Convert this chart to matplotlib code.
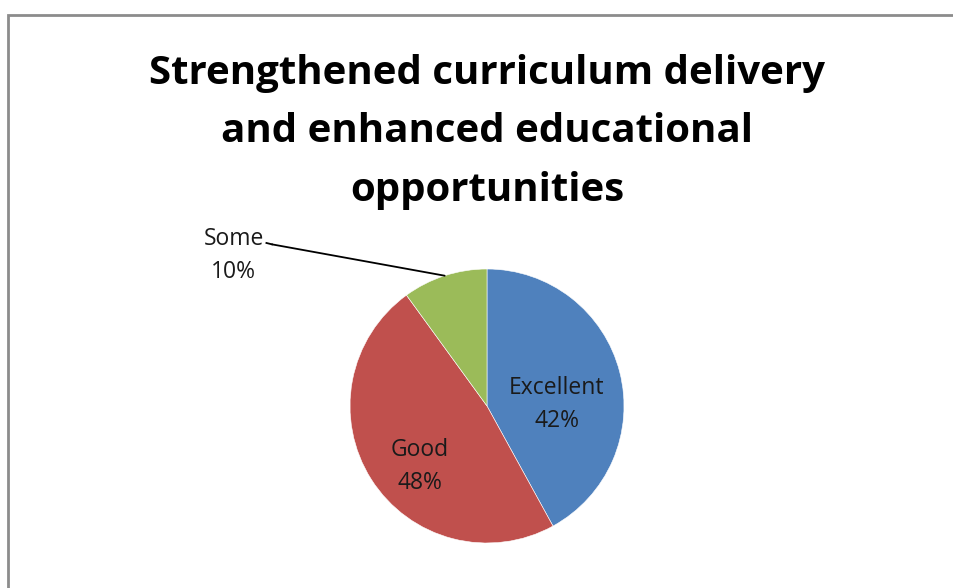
import numpy as np
import matplotlib.pyplot as plt
from matplotlib.patches import Rectangle

categories = ["Excellent", "Good", "Some"]
shares = [42, 48, 10]
colors = ["#4F81BD", "#C0504D", "#9BBB59"]
title = "Strengthened curriculum delivery\nand enhanced educational\nopportunities"

W, H = 954, 588
fig = plt.figure(figsize=(W / 100, H / 100), dpi=100)

# chart frame (runs off the right and bottom edges)
fig.patches.append(Rectangle((8 / W, -0.05), 1.2, (H - 15) / H + 0.05,
                             transform=fig.transFigure, fill=False,
                             edgecolor="#8c8c8c", linewidth=2))

fig.text(487 / W, 1 - 132 / H, title, ha="center", va="center",
         fontsize=29, fontweight="bold", family="Open Sans",
         linespacing=1.64)

cx, cy, r = 487, 406, 137
ax = fig.add_axes([(cx - r) / W, (H - cy - r) / H, 2 * r / W, 2 * r / H])
wedges, _ = ax.pie(shares, colors=colors, startangle=90, counterclock=False,
                   radius=1, wedgeprops=dict(edgecolor="white", linewidth=0.4))
ax.set_xlim(-1, 1)
ax.set_ylim(-1, 1)
ax.set_aspect("equal")
ax.axis("off")

lbl = dict(ha="center", va="center", fontsize=16.5, family="Open Sans",
           color="#1a1a1a", linespacing=1.5)
ax.text(0.51, 0.012, f"{categories[0]}\n{shares[0]}%", **lbl)
ax.text(-0.49, -0.445, f"{categories[1]}\n{shares[1]}%", **lbl)

# outside label for the small slice, with leader line
w = wedges[2]
mid = np.deg2rad((w.theta1 + w.theta2) / 2)
px, py = np.cos(mid), np.sin(mid)
ax.annotate("", xy=(px, py), xytext=(-1.57, 1.18),
            arrowprops=dict(arrowstyle="-", color="black", lw=1.3,
                            shrinkA=0, shrinkB=0), annotation_clip=False)
ax.plot([-1.61, -1.57], [1.19, 1.18], color="black", lw=1.3, clip_on=False)
ax.text(-1.85, 1.095, f"{categories[2]}\n{shares[2]}%", **lbl)

fig.savefig("out.png", dpi=100)
